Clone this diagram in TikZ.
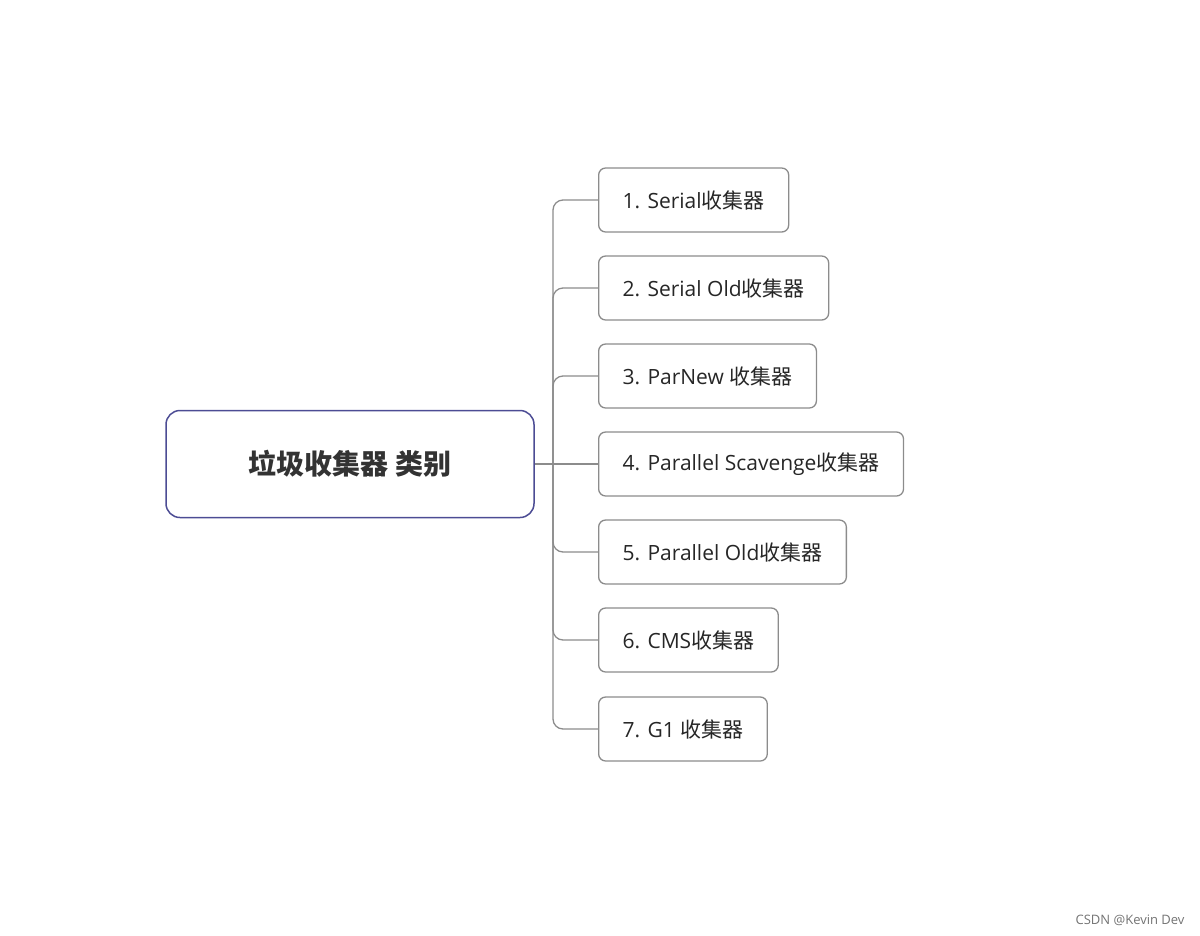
\documentclass[tikz,border=0pt]{standalone}
\usepackage{fontspec}
\setmainfont{Open Sans}
\newfontfamily\cjk{Noto Sans CJK SC}
\begin{document}
\begin{tikzpicture}[x=1pt,y=-1pt,
  child/.style={draw=black!45,line width=1.3pt,rounded corners=7pt,minimum height=64pt,anchor=west,inner xsep=24pt,font=\fontsize{21}{24}\selectfont,text=black!85},
  link/.style={draw=black!45,line width=1.3pt,rounded corners=10pt}]
\useasboundingbox (0,0) rectangle (1200,935);
\node[draw=black!60!blue!70,line width=1.5pt,rounded corners=14pt,minimum width=368pt,minimum height=107pt,font=\fontsize{28}{32}\selectfont\bfseries,text=black!80] (root) at (350,464) {{\cjk\bfseries 垃圾收集器 类别}};
\node[child] (c1) at (598,200) {1. Serial{\cjk 收集器}};
\node[child] (c2) at (598,288) {2. Serial Old{\cjk 收集器}};
\node[child] (c3) at (598,376) {3. ParNew {\cjk 收集器}};
\node[child] (c4) at (598,464) {4. Parallel Scavenge{\cjk 收集器}};
\node[child] (c5) at (598,552) {5. Parallel Old{\cjk 收集器}};
\node[child] (c6) at (598,640) {6. CMS{\cjk 收集器}};
\node[child] (c7) at (598,729) {7. G1 {\cjk 收集器}};
\coordinate (t) at (553,464);
\draw[link] (root.east) -- (c4.west);
\foreach \c in {c1,c2,c3} \draw[link] (t) |- (\c.west);
\foreach \c in {c5,c6,c7} \draw[link] (t) |- (\c.west);
\node[anchor=east,font=\fontsize{13}{15}\selectfont,text=black!55] (wm) at (1188,920) {CSDN @Kevin Dev};
\end{tikzpicture}
\end{document}
